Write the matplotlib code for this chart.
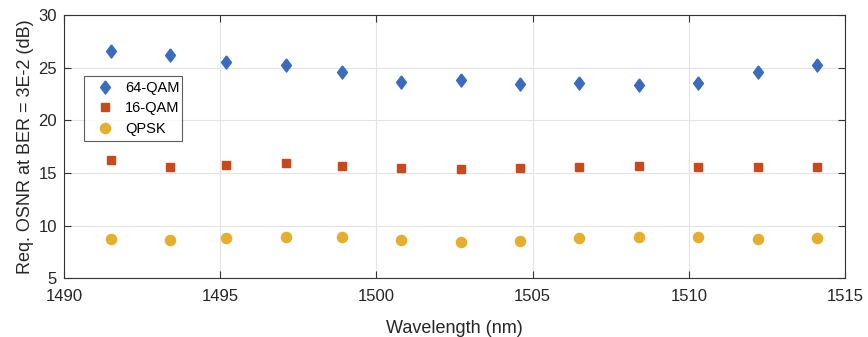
import numpy as np
import matplotlib
matplotlib.use("Agg")
import matplotlib.pyplot as plt

# === Data ===
wavelength = [1491.5, 1493.4, 1495.2, 1497.1, 1498.9, 1500.8, 1502.7,
              1504.6, 1506.5, 1508.4, 1510.3, 1512.2, 1514.1]
osnr_64qam = [26.6, 26.2, 25.6, 25.3, 24.6, 23.7, 23.85, 23.5, 23.6, 23.35, 23.6, 24.6, 25.3]
osnr_16qam = [16.2, 15.6, 15.8, 15.95, 15.7, 15.5, 15.4, 15.45, 15.6, 15.7, 15.6, 15.6, 15.6]
osnr_qpsk = [8.7, 8.6, 8.85, 8.95, 8.95, 8.65, 8.45, 8.5, 8.85, 8.9, 8.9, 8.7, 8.8]

series_labels = ["64-QAM", "16-QAM", "QPSK"]
x_ticks = [1490, 1495, 1500, 1505, 1510, 1515]
y_ticks = [5, 10, 15, 20, 25, 30]

plt.rcParams['font.family'] = ['Liberation Sans', 'DejaVu Sans']

# MATLAB-style diamond (wider than matplotlib's thin 'd')
diamond = [(0, 1), (0.75, 0), (0, -1), (-0.75, 0), (0, 1)]

fig = plt.figure(figsize=(8.68, 3.37), dpi=100)
ax = fig.add_axes([0.0737, 0.1742, 0.8998, 0.7804])

ax.plot(wavelength, osnr_64qam, linestyle='none', marker=diamond, markersize=9.5,
        color='#3A6BBF', label=series_labels[0])
ax.plot(wavelength, osnr_16qam, linestyle='none', marker='s', markersize=6.2,
        color='#C9481C', label=series_labels[1])
ax.plot(wavelength, osnr_qpsk, linestyle='none', marker='o', markersize=7.3,
        color='#E6AE2E', label=series_labels[2])

ax.set_xlim(1490, 1515)
ax.set_ylim(5, 30)
ax.set_xticks(x_ticks)
ax.set_yticks(y_ticks)
ax.grid(True, color='#E3E3E3', linewidth=0.8)
ax.set_axisbelow(True)

for s in ax.spines.values():
    s.set_color('#333333')
    s.set_linewidth(0.8)
ax.tick_params(direction='in', length=5, width=0.8, color='#333333',
               top=True, right=True, labelsize=12, labelcolor='#262626')
ax.tick_params(axis='x', pad=8)
ax.tick_params(axis='y', pad=5)

ax.set_xlabel('Wavelength (nm)', fontsize=13, color='#262626', labelpad=11)
ax.set_ylabel('Req. OSNR at BER = 3E-2 (dB)', fontsize=13, color='#262626', labelpad=3)

leg = ax.legend(loc='lower left', bbox_to_anchor=(0.0256, 0.522, 0.125, 0.238),
                mode='expand', fontsize=10.5, frameon=True, fancybox=False,
                borderpad=0.35, labelspacing=0.45, handletextpad=0.3,
                handlelength=2.15, borderaxespad=0)
leg.get_frame().set_edgecolor('#333333')
leg.get_frame().set_linewidth(0.8)

fig.savefig("out.png", dpi=100)
